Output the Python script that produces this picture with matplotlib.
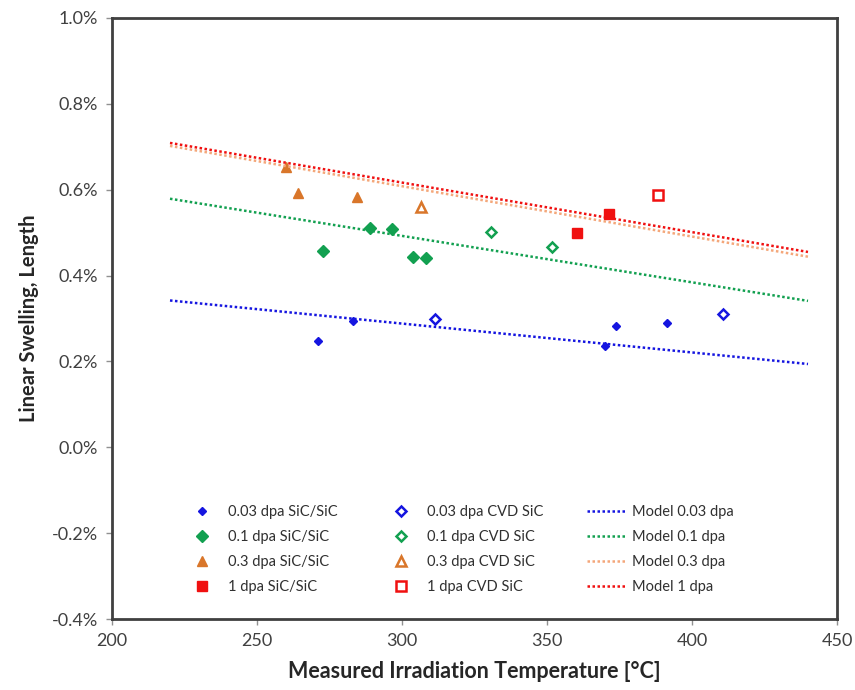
import matplotlib
matplotlib.use("Agg")
import matplotlib.pyplot as plt
from matplotlib.ticker import FuncFormatter, MultipleLocator

plt.rcParams['font.family'] = ['Lato', 'DejaVu Sans']

# ---- data (temperature in degC, swelling in %) ----
t_003_comp = [271.0, 283.1, 373.8, 370.0, 391.4]
s_003_comp = [0.247, 0.294, 0.282, 0.235, 0.289]
t_003_cvd = [311.4, 410.7]
s_003_cvd = [0.298, 0.310]

t_01_comp = [272.8, 289.0, 296.6, 303.8, 308.3]
s_01_comp = [0.457, 0.510, 0.508, 0.443, 0.441]
t_01_cvd = [330.7, 351.7]
s_01_cvd = [0.501, 0.466]

t_03_comp = [260.0, 264.1, 284.5]
s_03_comp = [0.653, 0.592, 0.583]
t_03_cvd = [306.6]
s_03_cvd = [0.559]

t_1_comp = [360.3, 371.4]
s_1_comp = [0.499, 0.543]
t_1_cvd = [388.3]
s_1_cvd = [0.587]

model_t = [220, 440]
model_003 = [0.342, 0.194]
model_01 = [0.579, 0.341]
model_03 = [0.702, 0.444]
model_1 = [0.709, 0.455]

labels_comp = ['0.03 dpa SiC/SiC', '0.1 dpa SiC/SiC', '0.3 dpa SiC/SiC', '1 dpa SiC/SiC']
labels_cvd = ['0.03 dpa CVD SiC', '0.1 dpa CVD SiC', '0.3 dpa CVD SiC', '1 dpa CVD SiC']
labels_model = ['Model 0.03 dpa', 'Model 0.1 dpa', 'Model 0.3 dpa', 'Model 1 dpa']

c_blue = '#1515E0'
c_green = '#12A050'
c_orange = '#D9762A'
c_red = '#F01010'
c_oline = '#F4A77A'

fig = plt.figure(figsize=(8.55, 6.9), dpi=100)
ax = fig.add_axes([112/855, 1-619/690, (837-112)/855, (619-18)/690])

h = []
# SiC/SiC filled
h.append(ax.plot(t_003_comp, s_003_comp, 'D', color=c_blue, ms=4.5, ls='none', label=labels_comp[0])[0])
h.append(ax.plot(t_01_comp, s_01_comp, 'D', color=c_green, ms=6, ls='none', label=labels_comp[1])[0])
h.append(ax.plot(t_03_comp, s_03_comp, '^', color=c_orange, ms=6.5, ls='none', label=labels_comp[2])[0])
h.append(ax.plot(t_1_comp, s_1_comp, 's', color=c_red, ms=6.5, ls='none', label=labels_comp[3])[0])
# CVD open
h.append(ax.plot(t_003_cvd, s_003_cvd, 'D', mfc='white', mec=c_blue, mew=1.8, ms=5.5, ls='none', label=labels_cvd[0])[0])
h.append(ax.plot(t_01_cvd, s_01_cvd, 'D', mfc='white', mec=c_green, mew=1.8, ms=5.5, ls='none', label=labels_cvd[1])[0])
h.append(ax.plot(t_03_cvd, s_03_cvd, '^', mfc='white', mec=c_orange, mew=1.8, ms=7, ls='none', label=labels_cvd[2])[0])
h.append(ax.plot(t_1_cvd, s_1_cvd, 's', mfc='white', mec=c_red, mew=1.8, ms=7, ls='none', label=labels_cvd[3])[0])
# model lines
h.append(ax.plot(model_t, model_003, ls=(0, (1, 1)), color=c_blue, lw=1.8, label=labels_model[0])[0])
h.append(ax.plot(model_t, model_01, ls=(0, (1, 1)), color=c_green, lw=1.8, label=labels_model[1])[0])
h.append(ax.plot(model_t, model_03, ls=(0, (1, 1)), color=c_oline, lw=1.8, label=labels_model[2])[0])
h.append(ax.plot(model_t, model_1, ls=(0, (1, 1)), color=c_red, lw=1.8, label=labels_model[3])[0])

ax.set_xlim(200, 450)
ax.set_ylim(-0.4, 1.0)
ax.xaxis.set_major_locator(MultipleLocator(50))
ax.yaxis.set_major_locator(MultipleLocator(0.2))
ax.yaxis.set_major_formatter(FuncFormatter(lambda v, p: f'{v:.1f}%'))

for s in ax.spines.values():
    s.set_linewidth(2)
    s.set_color('#404040')
ax.tick_params(direction='out', length=4, width=1, color='#909090',
               labelsize=13, labelcolor='#404040', pad=6)

ax.set_xlabel('Measured Irradiation Temperature [°C]', fontsize=15.5, fontweight='bold',
              color='#262626', labelpad=9)
ax.set_ylabel('Linear Swelling, Length', fontsize=14.5, fontweight='bold',
              color='#262626', labelpad=9)

leg = ax.legend(handles=h, ncol=3, frameon=False, loc='lower left',
                bbox_to_anchor=(0.08, 0.02), fontsize=10.5, handlelength=2.6,
                columnspacing=3.0, labelspacing=0.75, handletextpad=0.5)
for t in leg.get_texts():
    t.set_color('#303030')

fig.savefig('out.png', dpi=100)
